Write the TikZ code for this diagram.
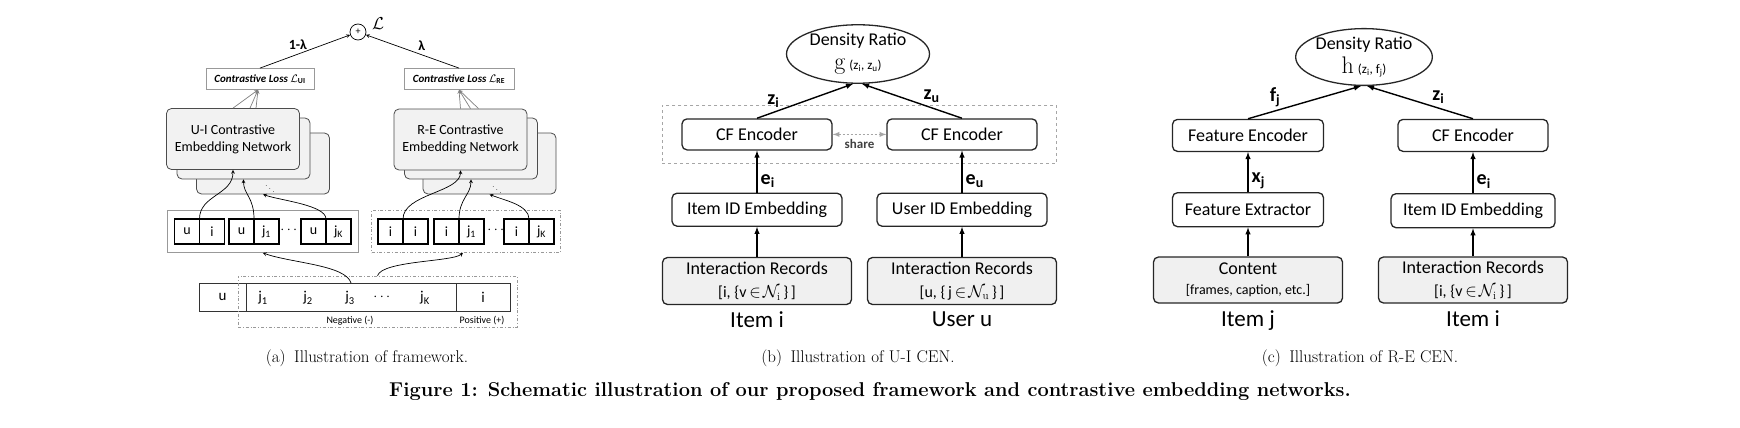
\documentclass[tikz,border=0pt]{standalone}
\usepackage{amsmath, amssymb}
\usepackage{fontspec}
\usepackage{xcolor}
\usepackage{tikz}
\usetikzlibrary{shapes.geometric, arrows, positioning, fit, calc, backgrounds}
\newfontfamily\diagfont{Carlito}

\begin{document}
\begin{tikzpicture}[
    x=1pt, y=-1pt,
    node distance=30pt and 40pt,
    block/.style={draw=black!85, line width=1.3pt, rectangle, rounded corners=5pt, minimum height=32pt, minimum width=151pt, align=center, fill=white, font=\diagfont\fontsize{18}{23}\selectfont},
    input/.style={block, fill=gray!12, minimum height=47pt, minimum width=189pt},
    ratio/.style={draw=black!85, line width=1.3pt, ellipse, minimum width=140pt, minimum height=54pt, inner sep=0pt, align=center, font=\diagfont\fontsize{18}{24}\selectfont},
    net/.style={draw=black!70, line width=0.8pt, fill=gray!10, rounded corners=5pt, minimum width=133pt, minimum height=61pt, align=center, font=\diagfont\fontsize{14}{17}\selectfont},
    loss/.style={draw=gray!80, line width=0.8pt, minimum height=21pt, font=\diagfont\bfseries\itshape\fontsize{11}{13}\selectfont},
    cell/.style={draw, line width=1.6pt, outer sep=0pt, minimum size=25pt, inner sep=0pt, font=\diagfont\fontsize{14}{14}\selectfont},
    seqcell/.style={draw=black!80, line width=0.8pt, outer sep=0pt, minimum height=28pt, inner sep=0pt, font=\diagfont\fontsize{15}{15}\selectfont},
    seqtxt/.style={font=\diagfont\fontsize{15}{15}\selectfont},
    arrow/.style={line width=1.4pt,->,>=latex},
    thinarrow/.style={line width=0.7pt,->,>=stealth},
    fan/.style={draw=gray, line width=0.7pt,->,>=stealth},
    share/.style={draw=gray!70, line width=1.3pt, dash pattern=on 2pt off 2pt, <->, >=latex},
    lbl/.style={font=\diagfont\bfseries\fontsize{20}{20}\selectfont, inner sep=1pt},
    caption/.style={font=\rmfamily\fontsize{17}{20}\selectfont}
]
\useasboundingbox (0,0) rectangle (1740,428);

% (a) framework
\node (sum) [circle, draw, line width=0.7pt, minimum size=16pt, inner sep=0pt, font=\diagfont\fontsize{10}{10}\selectfont] at (358,32) {+};
\node (Ltot) [font=\fontsize{18}{18}\selectfont] at (378,24) {$\mathcal{L}$};
\node (lossUI) [loss, minimum width=108pt] at (260,79) {Contrastive Loss $\mathcal{L}$\textsubscript{\upshape UI}};
\node (lossRE) [loss, minimum width=110pt] at (459,79) {Contrastive Loss $\mathcal{L}$\textsubscript{\upshape RE}};

\node (ui3) [net] at (263,163.5) {};
\node (ui2) [net] at (243.5,148.5) {};
\node (ui1) [net] at (233,139) {U-I Contrastive\\Embedding Network};
\node (uiDots) [font=\fontsize{9}{9}\selectfont] at (270,186) {$\ddots$};
\node (re3) [net] at (489.5,163.5) {};
\node (re2) [net] at (471,148.5) {};
\node (re1) [net] at (460.5,139.5) {R-E Contrastive\\Embedding Network};
\node (reDots) [font=\fontsize{9}{9}\selectfont] at (497,187) {$\ddots$};

\node (uiA1) [cell] at (187,231.5) {u};
\node (uiB1) [cell, right=0pt of uiA1] {i};
\node (uiA2) [cell] at (241.5,231.5) {u};
\node (uiB2) [cell, right=0pt of uiA2] {j\textsubscript{1}};
\node (uiGap) [seqtxt] at (290,230) {$\cdots$};
\node (uiA3) [cell] at (313.5,231.5) {u};
\node (uiB3) [cell, right=0pt of uiA3] {j\textsubscript{K}};
\node (rowUI) [draw=gray!80, line width=0.8pt, fit=(uiA1)(uiB3), inner xsep=7.5pt, inner ysep=8.5pt] {};

\node (reA1) [cell] at (390.5,231.5) {i};
\node (reB1) [cell, right=0pt of reA1] {i};
\node (reA2) [cell] at (446.5,231.5) {i};
\node (reB2) [cell, right=0pt of reA2] {j\textsubscript{1}};
\node (reGap) [seqtxt] at (497,230) {$\cdots$};
\node (reA3) [cell] at (516.5,231.5) {i};
\node (reB3) [cell, right=0pt of reA3] {j\textsubscript{K}};
\node (rowRE) [draw=gray!80, line width=0.7pt, dash dot, fit=(reA1)(reB3), inner xsep=6.5pt, inner ysep=8.5pt] {};

\node (su) [seqcell, minimum width=47pt] at (222.5,297) {u};
\node (sneg) [seqcell, minimum width=210pt, right=0pt of su] {};
\node (spos) [seqcell, minimum width=54pt, right=0pt of sneg] {i};
\node (sj1) [seqtxt] at (263,298) {j\textsubscript{1}};
\node (sj2) [seqtxt] at (308,298) {j\textsubscript{2}};
\node (sj3) [seqtxt] at (350,298) {j\textsubscript{3}};
\node (sjGap) [seqtxt] at (383,297) {$\cdots$};
\node (sjK) [seqtxt] at (425,298) {j\textsubscript{K}};
\node (cands) [draw=gray!80, line width=0.7pt, dash dot, minimum width=279pt, minimum height=51pt] at (377.5,301.5) {};
\node (negLbl) [font=\diagfont\fontsize{10}{10}\selectfont] at (350,321) {Negative (-)};
\node (posLbl) [font=\diagfont\fontsize{10}{10}\selectfont] at (482,321) {Positive (+)};

\draw[thinarrow] (lossUI.north) -- (sum) node[pos=0.42, above=1pt, font=\diagfont\bfseries\fontsize{14}{14}\selectfont] {1-λ};
\draw[thinarrow] (lossRE.north) -- (sum) node[pos=0.4, above=1pt, font=\diagfont\bfseries\fontsize{14}{14}\selectfont] {λ};
\foreach \dx in {0,17,23} \draw[fan] ([xshift=\dx pt]ui1.north) -- ([xshift=-2pt]lossUI.south);
\foreach \dx in {0,10,18} \draw[fan] ([xshift=\dx pt]re1.north) -- (lossRE.south);

\draw[thinarrow] (uiA1.north east) .. controls +(0,-24) and +(0,25) .. (ui1.south);
\draw[thinarrow] (uiA2.north east) .. controls +(0,-22) and +(0,15) .. (ui2.south);
\draw[thinarrow] (uiA3.north east) .. controls +(0,-14) and +(17,6) .. (ui3.south);
\draw[thinarrow] (reA1.north east) .. controls +(0,-25) and +(0,22) .. (re1.south);
\draw[thinarrow] (reA2.north east) .. controls +(0,-20) and +(0,15) .. (re2.south);
\draw[thinarrow] (reA3.north east) .. controls +(0,-14) and +(15,6) .. (re3.south);
\draw[thinarrow] (sneg.north) .. controls +(-5,-18) and +(28,10) .. (rowUI.south);
\draw[thinarrow] (cands.north) .. controls +(5,-15) and +(-11,9) .. ([xshift=-3pt]rowRE.south);

\node (capA) [caption] at (367,358) {(a)\enspace Illustration of framework.};

% (b) U-I CEN
\node (recI) [input] at (757,281) {Interaction Records\\{\fontsize{16}{16}\selectfont [i, \{v$\,\in\!\mathcal{N}_{\mathrm{i}}$\,\}\,]}};
\node (embI) [block, above=of recI, minimum width=170pt, minimum height=33pt] {Item ID Embedding};
\node (cfI) [block, above=42pt of embI, minimum width=150pt, minimum height=31pt] {CF Encoder};
\node (recU) [input] at (962,281) {Interaction Records\\{\fontsize{16}{16}\selectfont [u, \{\,j$\,\in\!\mathcal{N}_{\mathrm{u}}$\,\}\,]}};
\node (embU) [block, above=of recU, minimum width=170pt, minimum height=33pt] {User ID Embedding};
\node (cfU) [block, above=42pt of embU, minimum width=150pt, minimum height=31pt] {CF Encoder};
\node (ratioB) [ratio, minimum width=143pt] at (858,54) {Density Ratio\\{\rmfamily\fontsize{24}{24}\selectfont g} {\fontsize{13}{13}\selectfont (z\textsubscript{i}, z\textsubscript{u})}};
\node (shared) [draw=gray!70, line width=1pt, dashed, fit=(cfI)(cfU), inner xsep=19pt, inner ysep=13pt] {};
\node (itemI) [below=3pt of recI, font=\diagfont\fontsize{23}{23}\selectfont] {Item i};
\node (userU) [below=3pt of recU, font=\diagfont\fontsize{23}{23}\selectfont] {User u};
\node (capB) [caption] at (858,358) {(b)\enspace Illustration of U-I CEN.};

\draw[arrow] (recI) -- (embI);
\draw[arrow] (embI) -- (cfI) node[lbl, pos=0.28, right=2pt] {e\textsubscript{i}};
\draw[arrow] (recU) -- (embU);
\draw[arrow] (embU) -- (cfU) node[lbl, pos=0.28, right=2pt] {e\textsubscript{u}};
\draw[arrow] (cfI.north) -- ([xshift=-5pt]ratioB.south) node[lbl, pos=0.25, above left] {z\textsubscript{i}};
\draw[arrow] (cfU.north) -- ([xshift=4pt]ratioB.south) node[lbl, pos=0.4, above right] {z\textsubscript{u}};
\draw[share] (cfI) -- (cfU) node[midway, below=1pt, font=\diagfont\bfseries\fontsize{13}{13}\selectfont, text=black!75] {share};

% (c) R-E CEN
\node (contJ) [input, minimum height=46pt, font=\diagfont\fontsize{18}{20}\selectfont] at (1248,280) {Content\\{\fontsize{14}{14}\selectfont [frames, caption, etc.]}};
\node (extJ) [block, above=29pt of contJ, minimum height=34pt] {Feature Extractor};
\node (encJ) [block, above=40pt of extJ] {Feature Encoder};
\node (recI2) [input, minimum height=46pt] at (1473,280) {Interaction Records\\{\fontsize{16}{16}\selectfont [i, \{v$\,\in\!\mathcal{N}_{\mathrm{i}}$\,\}\,]}};
\node (embI2) [block, above=28pt of recI2, minimum width=164pt, minimum height=34pt] {Item ID Embedding};
\node (cfI2) [block, above=41pt of embI2, minimum width=150pt] {CF Encoder};
\node (ratioC) [ratio, minimum width=135pt, minimum height=53pt] at (1364,57) {Density Ratio\\{\rmfamily\fontsize{24}{24}\selectfont h} {\fontsize{13}{13}\selectfont (z\textsubscript{i}, f\textsubscript{j})}};
\node (itemJ) [below=3pt of contJ, font=\diagfont\fontsize{23}{23}\selectfont] {Item j};
\node (itemI2) [below=3pt of recI2, font=\diagfont\fontsize{23}{23}\selectfont] {Item i};
\node (capC) [caption] at (1360,358) {(c)\enspace Illustration of R-E CEN.};

\draw[arrow] (contJ) -- (extJ);
\draw[arrow] (extJ) -- (encJ) node[lbl, pos=0.28, right=2pt] {x\textsubscript{j}};
\draw[arrow] (recI2) -- (embI2);
\draw[arrow] (embI2) -- (cfI2) node[lbl, pos=0.28, right=2pt] {e\textsubscript{i}};
\draw[arrow] (encJ.north) -- ([xshift=-3pt]ratioC.south) node[lbl, pos=0.3, above left] {f\textsubscript{j}};
\draw[arrow] (cfI2.north) -- ([xshift=3pt]ratioC.south) node[lbl, pos=0.4, above right] {z\textsubscript{i}};

% figure caption
\node (fig) [font=\rmfamily\bfseries\fontsize{20}{24}\selectfont] at (870,392) {Figure 1: Schematic illustration of our proposed framework and contrastive embedding networks.};

\end{tikzpicture}
\end{document}
